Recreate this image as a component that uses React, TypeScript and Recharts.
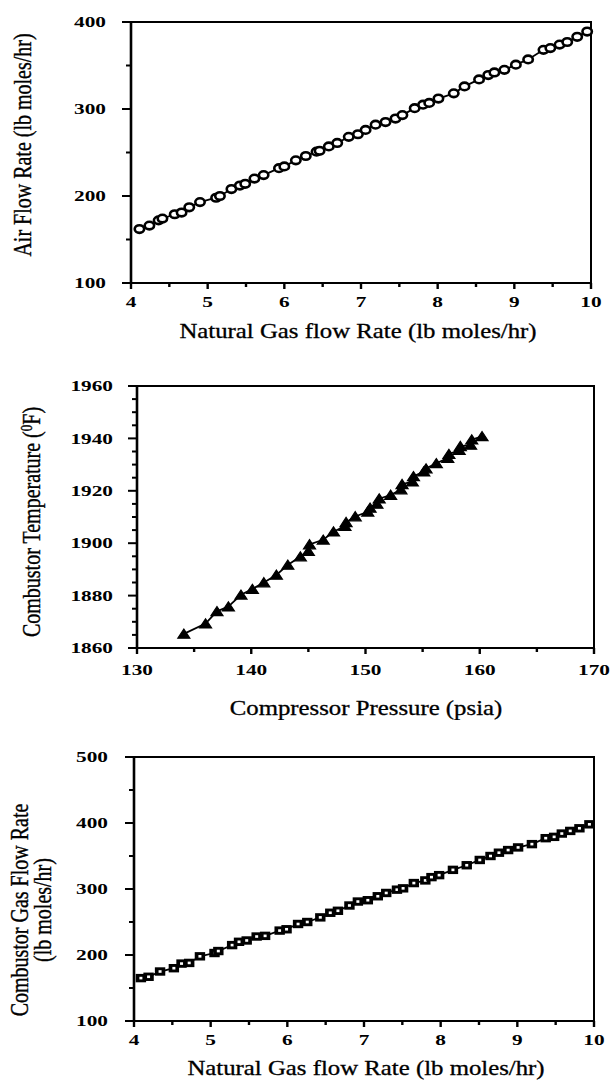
import React from "react";
import { ScatterChart, Scatter, XAxis, YAxis, ReferenceArea, Label } from "recharts";

// --- chart 1: air flow vs natural gas flow ---
const gasFlowA = [4.11, 4.24, 4.36, 4.41, 4.57, 4.66, 4.76, 4.9, 5.11, 5.16, 5.31, 5.42, 5.49, 5.61, 5.73, 5.93, 6.0, 6.15, 6.28, 6.42, 6.46, 6.58, 6.69, 6.84, 6.96, 7.06, 7.19, 7.32, 7.45, 7.54, 7.7, 7.81, 7.89, 8.01, 8.21, 8.35, 8.54, 8.66, 8.74, 8.87, 9.02, 9.18, 9.38, 9.47, 9.59, 9.69, 9.82, 9.95];
const airFlow = [162, 166, 172, 174, 179, 181, 187, 193, 198, 200, 208, 212, 214, 220, 224, 232, 234, 241, 246, 251, 252, 257, 261, 268, 271, 276, 282, 285, 289, 293, 301, 305, 307, 312, 318, 326, 334, 339, 342, 345, 351, 357, 368, 370, 374, 377, 383, 389];

// --- chart 2: combustor temperature vs compressor pressure ---
const pressure = [134.1, 136.0, 137.0, 138.0, 139.1, 140.1, 141.1, 142.2, 143.2, 144.3, 145.0, 145.1, 146.3, 147.2, 148.2, 148.3, 149.1, 150.2, 150.4, 151.0, 151.2, 152.2, 153.1, 153.2, 154.1, 154.2, 155.1, 155.3, 156.2, 157.2, 157.3, 158.2, 158.3, 159.2, 159.3, 160.2];
const combTemp = [1865.4, 1869.3, 1874.0, 1875.8, 1880.3, 1882.5, 1885.0, 1887.9, 1891.7, 1894.9, 1897.0, 1899.5, 1901.3, 1904.4, 1906.5, 1908.0, 1910.2, 1912.0, 1913.5, 1915.0, 1917.0, 1918.4, 1920.5, 1922.5, 1923.5, 1925.5, 1927.3, 1928.5, 1930.5, 1932.5, 1934.0, 1935.5, 1937.0, 1937.5, 1939.5, 1940.8];

// --- chart 3: combustor gas flow vs natural gas flow ---
const gasFlowC = [4.09, 4.19, 4.34, 4.52, 4.62, 4.72, 4.86, 5.05, 5.1, 5.28, 5.37, 5.47, 5.6, 5.71, 5.9, 5.99, 6.14, 6.26, 6.43, 6.56, 6.66, 6.81, 6.92, 7.05, 7.18, 7.29, 7.43, 7.51, 7.65, 7.8, 7.88, 7.98, 8.16, 8.34, 8.51, 8.65, 8.76, 8.88, 9.01, 9.19, 9.37, 9.48, 9.58, 9.69, 9.81, 9.94];
const combGas = [165, 167, 175, 180, 187, 188, 198, 203, 206, 215, 220, 222, 228, 229, 237, 239, 247, 250, 257, 264, 267, 275, 281, 283, 289, 294, 299, 301, 309, 313, 318, 321, 329, 336, 344, 350, 355, 359, 363, 368, 377, 379, 384, 388, 392, 398];

// ticks (all marks) and the ones that carry a label
const gasTicks = [4, 4.5, 5, 5.5, 6, 6.5, 7, 7.5, 8, 8.5, 9, 9.5, 10];
const gasLabels = [4, 5, 6, 7, 8, 9, 10];
const airTicks = [100, 150, 200, 250, 300, 350, 400];
const airLabels = [100, 200, 300, 400];
const pressTicks = [130, 135, 140, 145, 150, 155, 160, 165, 170];
const pressLabels = [130, 140, 150, 160, 170];
const tempTicks = [1860, 1865, 1870, 1875, 1880, 1885, 1890, 1895, 1900, 1905, 1910, 1915, 1920, 1925, 1930, 1935, 1940, 1945, 1950, 1955, 1960];
const tempLabels = [1860, 1880, 1900, 1920, 1940, 1960];
const combTicks = [100, 150, 200, 250, 300, 350, 400, 450, 500];
const combLabels = [100, 200, 300, 400, 500];

const zip = (xs: number[], ys: number[]) => xs.map((x, i) => ({ x, y: ys[i] }));

const serif = "'Liberation Serif', 'Times New Roman', serif";

const xTick = (labels: number[], labelDy: number) => (props: any) => {
  const { x, y, payload } = props;
  const major = labels.includes(payload.value);
  return (
    <g>
      <line x1={x} x2={x} y1={y} y2={y + (major ? 6 : 4)} stroke="#000" strokeWidth={2.4} />
      {major && (
        <text transform={`translate(${x},${y + labelDy}) scale(1.42,1)`} textAnchor="middle" dy="0.35em"
          fontFamily={serif} fontWeight="bold" fontSize={15} fill="#000">
          {payload.value}
        </text>
      )}
    </g>
  );
};

const yTick = (labels: number[], labelGap: number) => (props: any) => {
  const { x, y, payload } = props;
  const major = labels.includes(payload.value);
  return (
    <g>
      <line x1={x - (major ? 9 : 5)} x2={x} y1={y} y2={y} stroke="#000" strokeWidth={2} />
      {major && (
        <text transform={`translate(${x - labelGap},${y}) scale(1.42,1)`} textAnchor="end" dy="0.35em"
          fontFamily={serif} fontWeight="bold" fontSize={15} fill="#000">
          {payload.value}
        </text>
      )}
    </g>
  );
};

const xTitle = (cx: number, y: number, text: string) => () => (
  <text transform={`translate(${cx},${y}) scale(1.24,1)`} textAnchor="middle" fontFamily={serif} fontSize={20}
    fill="#000" stroke="#000" strokeWidth={0.3}>
    {text}
  </text>
);

const yTitle = (cx: number, cy: number, content: React.ReactNode) => (
  <text transform={`translate(${cx},${cy}) scale(1.24,1) rotate(-90)`} textAnchor="middle" dy="0.3em"
    fontFamily={serif} fontSize={20} fill="#000" stroke="#000" strokeWidth={0.3}>
    {content}
  </text>
);

const circleDot = (p: any) => (
  <ellipse cx={p.cx} cy={p.cy} rx={4.7} ry={3.8} fill="#fff" stroke="#000" strokeWidth={2.6} />
);
const triangleDot = (p: any) => (
  <polygon points={`${p.cx - 6},${p.cy + 4.3} ${p.cx + 6},${p.cy + 4.3} ${p.cx},${p.cy - 4.8}`} fill="#000" stroke="#000" strokeWidth={1.2} />
);
const squareDot = (p: any) => (
  <g>
    <rect x={p.cx - 5.2} y={p.cy - 4.2} width={10.4} height={8.4} fill="#000" />
    <rect x={p.cx - 1.5} y={p.cy - 1.3} width={3} height={2.6} fill="#fff" />
  </g>
);

const lineStyle = { stroke: "#000", strokeWidth: 1.8 };

export default function App() {
  return (
    <div style={{ position: "absolute", left: 0, top: 0, width: 614, height: 1081, background: "#fff" }}>
      <div style={{ position: "absolute", left: 0, top: 0 }}>
        <ScatterChart width={614} height={350} margin={{ top: 22, right: 23, left: 0, bottom: 37 }}>
          <XAxis type="number" dataKey="x" domain={[4, 10]} ticks={gasTicks} interval={0} height={30}
            tickSize={0} tickMargin={0} tick={xTick(gasLabels, 19)} axisLine={{ stroke: "#000", strokeWidth: 2 }}>
            <Label content={xTitle(358, 338, "Natural Gas flow Rate (lb moles/hr)")} />
          </XAxis>
          <YAxis type="number" dataKey="y" domain={[100, 400]} ticks={airTicks} interval={0} width={131}
            tickSize={0} tickMargin={0} tick={yTick(airLabels, 25)} axisLine={{ stroke: "#000", strokeWidth: 2.6 }}>
            <Label content={() => yTitle(24, 145, "Air Flow Rate (lb moles/hr)")} />
          </YAxis>
          <ReferenceArea x1={4} x2={10} y1={100} y2={400} fill="none" stroke="#000" strokeWidth={2} ifOverflow="visible" />
          <Scatter data={zip(gasFlowA, airFlow)} line={lineStyle} shape={circleDot} isAnimationActive={false} />
        </ScatterChart>
      </div>

      <div style={{ position: "absolute", left: 0, top: 360 }}>
        <ScatterChart width={614} height={360} margin={{ top: 26, right: 20, left: 0, bottom: 42 }}>
          <XAxis type="number" dataKey="x" domain={[130, 170]} ticks={pressTicks} interval={0} height={30}
            tickSize={0} tickMargin={0} tick={xTick(pressLabels, 22)} axisLine={{ stroke: "#000", strokeWidth: 2 }}>
            <Label content={xTitle(366, 355, "Compressor Pressure (psia)")} />
          </XAxis>
          <YAxis type="number" dataKey="y" domain={[1860, 1960]} ticks={tempTicks} interval={0} width={137}
            tickSize={0} tickMargin={0} tick={yTick(tempLabels, 24)} axisLine={{ stroke: "#000", strokeWidth: 2.6 }}>
            <Label content={() => yTitle(33, 162, (
              <>
                Combustor Temperature (<tspan dy={-7} fontSize={13}>0</tspan><tspan dy={7}>F)</tspan>
              </>
            ))} />
          </YAxis>
          <ReferenceArea x1={130} x2={170} y1={1860} y2={1960} fill="none" stroke="#000" strokeWidth={2} ifOverflow="visible" />
          <Scatter data={zip(pressure, combTemp)} line={lineStyle} shape={triangleDot} isAnimationActive={false} />
        </ScatterChart>
      </div>

      <div style={{ position: "absolute", left: 0, top: 720 }}>
        <ScatterChart width={614} height={361} margin={{ top: 37, right: 20, left: 0, bottom: 30 }}>
          <XAxis type="number" dataKey="x" domain={[4, 10]} ticks={gasTicks} interval={0} height={30}
            tickSize={0} tickMargin={0} tick={xTick(gasLabels, 19)} axisLine={{ stroke: "#000", strokeWidth: 2 }}>
            <Label content={xTitle(366, 355, "Natural Gas flow Rate (lb moles/hr)")} />
          </XAxis>
          <YAxis type="number" dataKey="y" domain={[100, 500]} ticks={combTicks} interval={0} width={134}
            tickSize={0} tickMargin={0} tick={yTick(combLabels, 26)} axisLine={{ stroke: "#000", strokeWidth: 2.6 }}>
            <Label content={() => (
              <g>
                {yTitle(21, 190, "Combustor Gas Flow Rate")}
                {yTitle(44, 190, "(lb moles/hr)")}
              </g>
            )} />
          </YAxis>
          <ReferenceArea x1={4} x2={10} y1={100} y2={500} fill="none" stroke="#000" strokeWidth={2} ifOverflow="visible" />
          <Scatter data={zip(gasFlowC, combGas)} line={lineStyle} shape={squareDot} isAnimationActive={false} />
        </ScatterChart>
      </div>
    </div>
  );
}
